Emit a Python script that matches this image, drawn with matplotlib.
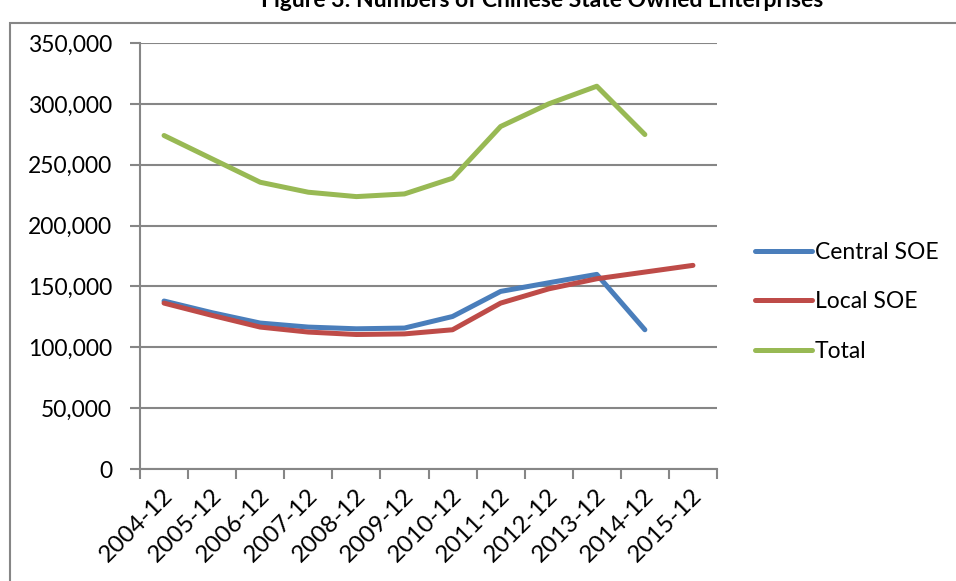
import matplotlib
matplotlib.use("Agg")
import matplotlib.pyplot as plt
from matplotlib.patches import Rectangle
from matplotlib.ticker import FuncFormatter, FixedLocator
import matplotlib.transforms as mtransforms
import numpy as np

categories = ["2004-12", "2005-12", "2006-12", "2007-12", "2008-12", "2009-12",
              "2010-12", "2011-12", "2012-12", "2013-12", "2014-12", "2015-12"]
central_soe = [138000, 128400, 119900, 116600, 115200, 115800, 125300, 145900, 153000, 159900, 114400, None]
local_soe = [136300, 126200, 116600, 112500, 110500, 111000, 114400, 136300, 148000, 156300, 161800, 167300]
total = [274000, 254800, 235600, 227400, 223800, 226000, 238900, 281400, 300000, 314500, 274800, None]

title = "Figure 3: Numbers of Chinese State Owned Enterprises"
series_names = ["Central SOE", "Local SOE", "Total"]
colors = ["#4A7EBB", "#BE4B48", "#98B954"]

plt.rcParams['font.family'] = ['Lato', 'DejaVu Sans']

W, H = 956, 581
fig = plt.figure(figsize=(W / 100, H / 100), dpi=100)

# chart frame (extends beyond right/bottom edges)
fig.patches.append(Rectangle((10 / W, -0.1), 1.2, (H - 23) / H + 0.1,
                             transform=fig.transFigure, fill=False,
                             edgecolor="#868686", linewidth=1.5, zorder=0))

fig.text(542 / W, 1 - 7 / H, title, ha="center", va="baseline",
         fontsize=16.5, fontweight="bold", color="black")

ax = fig.add_axes([140 / W, 1 - 469 / H, (717 - 140) / W, (469 - 43) / H])
x = np.arange(len(categories))

def to_arr(v):
    return np.array([np.nan if a is None else a for a in v], dtype=float)

for vals, name, c in zip([central_soe, local_soe, total], series_names, colors):
    ax.plot(x, to_arr(vals), color=c, linewidth=3.6, label=name,
            solid_capstyle="round", solid_joinstyle="round", zorder=3)

ax.set_xlim(-0.5, len(categories) - 0.5)
ax.set_ylim(0, 350000)
ax.set_yticks(np.arange(0, 350001, 50000))
ax.yaxis.set_major_formatter(FuncFormatter(lambda v, p: f"{int(v):,}"))
ax.grid(axis="y", color="#868686", linewidth=1.5, zorder=1)
ax.set_axisbelow(True)

ax.set_xticks(x)
ax.set_xticklabels(categories)
ax.xaxis.set_minor_locator(FixedLocator(np.arange(-0.5, len(categories), 1.0)))
ax.tick_params(axis="x", which="major", length=0, pad=17, labelsize=17.5)
ax.tick_params(axis="x", which="minor", length=7, width=1.5, color="#868686")
ax.tick_params(axis="y", length=7, width=1.5, color="#868686", labelsize=16.5, pad=13)
shift = mtransforms.ScaledTranslation(6 / 100, 0, fig.dpi_scale_trans)
for lbl in ax.get_xticklabels():
    lbl.set_rotation(45)
    lbl.set_ha("right")
    lbl.set_va("center")
    lbl.set_rotation_mode("anchor")
    lbl.set_transform(lbl.get_transform() + shift)

for s in ["top", "right"]:
    ax.spines[s].set_visible(False)
for s in ["left", "bottom"]:
    ax.spines[s].set_color("#868686")
    ax.spines[s].set_linewidth(1.5)

leg = ax.legend(loc="center left", bbox_to_anchor=(1.05, 1 - (302 - 43) / 426), frameon=False,
                fontsize=16.5, handlelength=2.5, handletextpad=0.1,
                labelspacing=1.25, borderaxespad=0)

fig.savefig("out.png", dpi=100)
